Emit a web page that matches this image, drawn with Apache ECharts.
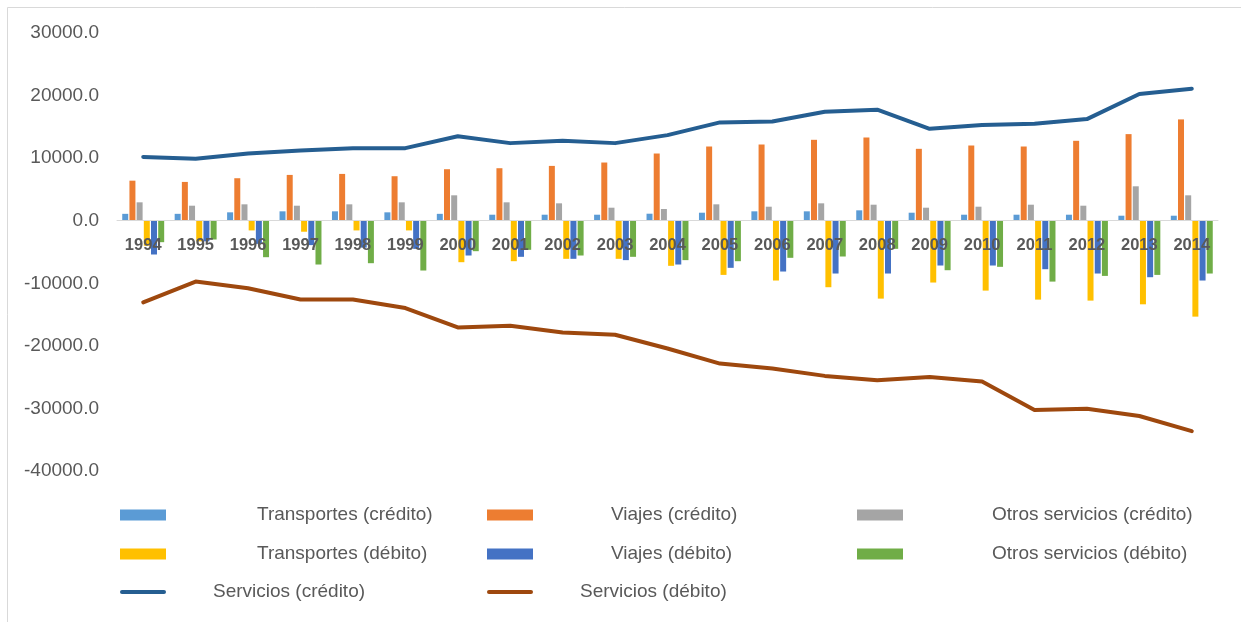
<!DOCTYPE html>
<html>
<head>
<meta charset="utf-8">
<script src="https://cdn.jsdelivr.net/npm/echarts@6/dist/echarts.min.js"></script>
<style>
  html, body { margin: 0; padding: 0; background: #ffffff; }
  #chart { width: 1241px; height: 622px; }
</style>
</head>
<body>
<div id="chart"></div>
<script>
// Años
const years = ['1994','1995','1996','1997','1998','1999','2000','2001','2002','2003','2004',
               '2005','2006','2007','2008','2009','2010','2011','2012','2013','2014'];

// Componentes (barras)
const transportesCredito = [1100,1100,1340,1500,1500,1340,1100,960,960,960,1120,1280,1500,1500,1660,1280,960,960,960,800,800];
const viajesCredito      = [6400,6200,6790,7320,7480,7110,8230,8390,8760,9300,10740,11860,12180,12930,13300,11490,12020,11860,12770,13840,16190];
const otrosCredito       = [2940,2400,2620,2400,2620,2940,4060,2940,2780,2080,1870,2620,2240,2780,2560,2080,2240,2560,2400,5500,4060];
const transportesDebito  = [-4000,-3300,-1550,-1760,-1550,-1550,-6630,-6470,-6090,-6090,-7210,-8660,-9560,-10630,-12450,-9880,-11170,-12610,-12770,-13360,-15330];
const viajesDebito       = [-5400,-3300,-3700,-3900,-4300,-4500,-5560,-5770,-6090,-6300,-7000,-7530,-8120,-8440,-8440,-7160,-7160,-7750,-8440,-9030,-9560];
const otrosDebito        = [-3430,-3000,-5830,-7000,-6790,-7960,-4870,-4650,-5560,-5770,-6300,-6470,-5930,-5720,-4490,-7910,-7370,-9730,-8820,-8660,-8440];

// Totales (líneas)
const serviciosCredito = [10200,9900,10740,11220,11600,11600,13500,12400,12770,12400,13680,15710,15870,17420,17740,14690,15280,15490,16240,20250,21100];
const serviciosDebito  = [-13040,-9730,-10790,-12600,-12600,-13950,-17050,-16790,-17850,-18230,-20420,-22830,-23630,-24800,-25490,-24960,-25710,-30250,-30040,-31210,-33620];

// Eje de valores
const yMin = -40000, yMax = 30000, yStep = 10000;

const chart = echarts.init(document.getElementById('chart'), null, { renderer: 'canvas' });

const FONT = '"Liberation Sans", Arial, sans-serif';
const TXT = '#595959';

// Márgenes del área de trazado
const GRID = { left: 117, right: 23, top: 33, bottom: 151 };
const plotHeight = 622 - GRID.top - GRID.bottom;
// El eje de categorías (línea y etiquetas) se dibuja a la altura del cero
const zeroOffset = -plotHeight * (0 - yMin) / (yMax - yMin);

const barSeries = [
  { name: 'Transportes (crédito)', data: transportesCredito, color: '#5b9bd5' },
  { name: 'Viajes (crédito)',      data: viajesCredito,      color: '#ed7d31' },
  { name: 'Otros servicios (crédito)', data: otrosCredito,   color: '#a5a5a5' },
  { name: 'Transportes (débito)',  data: transportesDebito,  color: '#ffc000' },
  { name: 'Viajes (débito)',       data: viajesDebito,       color: '#4472c4' },
  { name: 'Otros servicios (débito)', data: otrosDebito,     color: '#70ad47' }
].map(s => ({
  name: s.name,
  type: 'bar',
  data: s.data,
  barGap: '20%',
  barCategoryGap: '20%',
  itemStyle: { color: s.color },
  emphasis: { disabled: true }
}));

const lineSeries = [
  { name: 'Servicios (crédito)', data: serviciosCredito, color: '#255e91' },
  { name: 'Servicios (débito)',  data: serviciosDebito,  color: '#9e480e' }
].map(s => ({
  name: s.name,
  type: 'line',
  data: s.data,
  symbol: 'none',
  showSymbol: false,
  z: 5,
  lineStyle: { color: s.color, width: 4, cap: 'round', join: 'round' },
  itemStyle: { color: s.color },
  emphasis: { disabled: true }
}));

// Icono de línea con extremos redondeados
const LINE_ICON = 'path://M2,0 L44,0 A2,2 0 0 1 44,4 L2,4 A2,2 0 0 1 2,0 Z';

// Leyenda: una entrada por componente para fijar su posición
const legendItems = [
  { name: 'Transportes (crédito)',      left: 120, cy: 515, pad: 86 },
  { name: 'Viajes (crédito)',           left: 487, cy: 515, pad: 73 },
  { name: 'Otros servicios (crédito)',  left: 857, cy: 515, pad: 84 },
  { name: 'Transportes (débito)',       left: 120, cy: 554, pad: 86 },
  { name: 'Viajes (débito)',            left: 487, cy: 554, pad: 73 },
  { name: 'Otros servicios (débito)',   left: 857, cy: 554, pad: 84 },
  { name: 'Servicios (crédito)',        left: 120, cy: 592, pad: 42, line: true },
  { name: 'Servicios (débito)',         left: 487, cy: 592, pad: 42, line: true }
];

const legends = legendItems.map(it => ({
  data: [{ name: it.name, icon: it.line ? LINE_ICON : 'rect' }],
  left: it.left,
  top: it.cy - 11,
  padding: 0,
  itemWidth: 46,
  itemHeight: it.line ? 4 : 11,
  selectedMode: false,
  textStyle: {
    fontFamily: FONT,
    fontSize: 19,
    color: TXT,
    lineHeight: 22,
    padding: [0, 0, 0, it.pad]
  }
}));

const option = {
  backgroundColor: '#ffffff',
  animation: false,
  textStyle: { fontFamily: FONT },
  grid: Object.assign({ containLabel: false }, GRID),
  legend: legends,
  xAxis: {
    type: 'category',
    data: years,
    boundaryGap: true,
    position: 'bottom',
    offset: zeroOffset,
    axisLine: { show: true, onZero: false, lineStyle: { color: '#d9d9d9', width: 1 } },
    axisTick: { show: false },
    axisLabel: {
      interval: 0,
      margin: 16,
      fontFamily: FONT,
      fontSize: 16.5,
      fontWeight: 'bold',
      color: TXT
    },
    splitLine: { show: false },
    z: 10
  },
  yAxis: {
    type: 'value',
    min: yMin,
    max: yMax,
    interval: yStep,
    axisLine: { show: false },
    axisTick: { show: false },
    splitLine: { show: false },
    axisLabel: {
      margin: 18,
      fontFamily: FONT,
      fontSize: 19,
      color: TXT,
      formatter: v => v.toFixed(1)
    }
  },
  graphic: [{
    type: 'polyline',
    shape: { points: [[7.5, 622], [7.5, 7.5], [1241, 7.5]] },
    style: { stroke: '#d9d9d9', lineWidth: 1, fill: null },
    silent: true
  }],
  series: barSeries.concat(lineSeries)
};

chart.setOption(option);
</script>
</body>
</html>
